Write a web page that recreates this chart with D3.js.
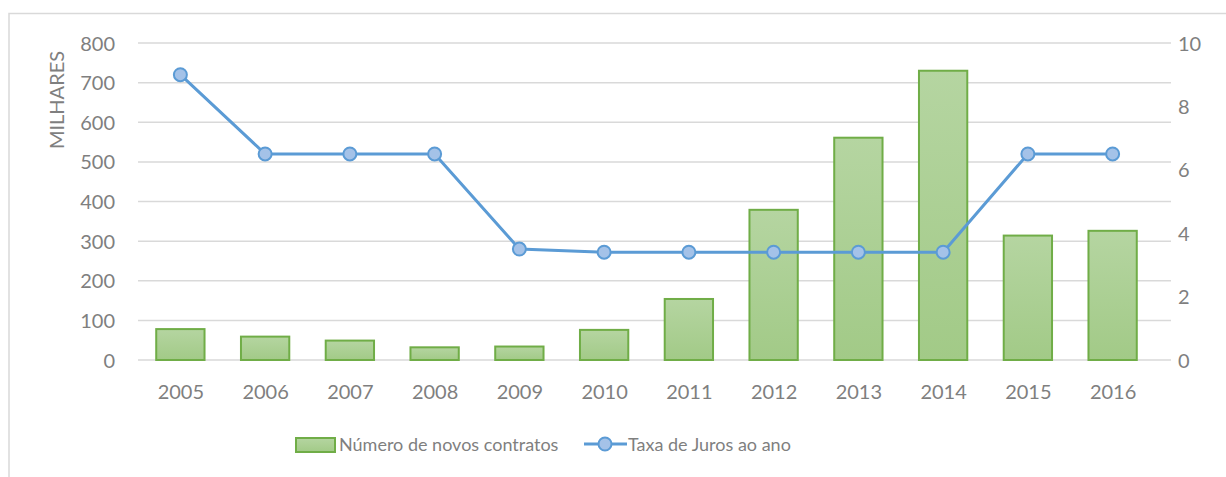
<!DOCTYPE html>
<html>
<head>
<meta charset="utf-8">
<script src="https://cdn.jsdelivr.net/npm/d3@7"></script>
<style>
  body { margin: 0; background: #fff; }
  svg text { font-family: Lato, "Open Sans", sans-serif; fill: #7f7f7f; }
</style>
</head>
<body>
<svg id="chart" width="1226" height="477"></svg>
<script>
// dados
const anos = ["2005","2006","2007","2008","2009","2010","2011","2012","2013","2014","2015","2016"]
const contratos = [78, 59, 49, 32, 34, 76, 154, 379, 561, 730, 314, 326]
const taxaJuros = [9, 6.5, 6.5, 6.5, 3.5, 3.4, 3.4, 3.4, 3.4, 3.4, 6.5, 6.5]
const ticksEsq = [0, 100, 200, 300, 400, 500, 600, 700, 800]
const ticksDir = [0, 2, 4, 6, 8, 10]

const svg = d3.select("#chart")
const plotEsq = 138, plotDir = 1155, gradeDir = 1171, plotTopo = 43, plotBase = 360

// moldura
svg.append("path")
  .attr("d", "M9,477 V13.5 H1226")
  .attr("fill", "none")
  .attr("stroke", "#d9d9d9")
  .attr("stroke-width", 1.5)

const x = d3.scaleBand().domain(anos).range([plotEsq, plotDir]).paddingInner(0.43).paddingOuter(0.215)
const xc = d3.scalePoint().domain(anos).range([plotEsq, plotDir]).padding(0.5)
const y = d3.scaleLinear().domain([0, 800]).range([plotBase, plotTopo])
const y2 = d3.scaleLinear().domain([0, 10]).range([plotBase, plotTopo])

// grade
svg.append("g")
  .selectAll("line")
  .data(ticksEsq)
  .join("line")
  .attr("x1", plotEsq).attr("x2", gradeDir)
  .attr("y1", d => y(d)).attr("y2", d => y(d))
  .attr("stroke", "#d9d9d9")
  .attr("stroke-width", 1.5)

// eixo esquerdo
const eixoEsq = svg.append("g")
  .attr("transform", `translate(${plotEsq - 23},0)`)
  .call(d3.axisLeft(y).tickValues(ticksEsq).tickSize(0).tickPadding(0))
eixoEsq.select(".domain").remove()
eixoEsq.selectAll("text").attr("font-size", 20).attr("dy", "0.35em")

// eixo direito
const eixoDir = svg.append("g")
  .attr("transform", `translate(${gradeDir + 7},0)`)
  .call(d3.axisRight(y2).tickValues(ticksDir).tickSize(0).tickPadding(0))
eixoDir.select(".domain").remove()
eixoDir.selectAll("text").attr("font-size", 20).attr("dy", "0.35em")

// eixo x
const eixoX = svg.append("g")
  .attr("transform", `translate(0,${plotBase})`)
  .call(d3.axisBottom(xc).tickSize(0).tickPadding(0))
eixoX.select(".domain").remove()
eixoX.selectAll("text").attr("font-size", 20).attr("dy", "1.95em")

svg.append("text")
  .attr("transform", "translate(64,100) rotate(-90)")
  .attr("text-anchor", "middle")
  .attr("font-size", 20)
  .text("MILHARES")

// gradiente das barras
const defs = svg.append("defs")
const grad = defs.append("linearGradient")
  .attr("id", "verde").attr("x1", 0).attr("y1", 0).attr("x2", 0).attr("y2", 1)
grad.append("stop").attr("offset", "0%").attr("stop-color", "#b5d5a1")
grad.append("stop").attr("offset", "100%").attr("stop-color", "#a2ca87")

// barras
svg.append("g")
  .selectAll("rect")
  .data(contratos)
  .join("rect")
  .attr("x", (d, i) => x(anos[i]))
  .attr("y", d => y(d))
  .attr("width", x.bandwidth())
  .attr("height", d => plotBase - y(d))
  .attr("fill", "url(#verde)")
  .attr("stroke", "#70ad47")
  .attr("stroke-width", 2)

// linha
const linha = d3.line()
  .x((d, i) => xc(anos[i]))
  .y(d => y2(d))

svg.append("path")
  .datum(taxaJuros)
  .attr("d", linha)
  .attr("fill", "none")
  .attr("stroke", "#5b9bd5")
  .attr("stroke-width", 3)

svg.append("g")
  .selectAll("circle")
  .data(taxaJuros)
  .join("circle")
  .attr("cx", (d, i) => xc(anos[i]))
  .attr("cy", d => y2(d))
  .attr("r", 6.5)
  .attr("fill", "#a4c2e8")
  .attr("stroke", "#5b9bd5")
  .attr("stroke-width", 2)

// legenda
const leg = svg.append("g")
leg.append("rect")
  .attr("x", 296).attr("y", 438).attr("width", 39).attr("height", 14)
  .attr("fill", "url(#verde)").attr("stroke", "#70ad47").attr("stroke-width", 2)
leg.append("text")
  .attr("x", 339).attr("y", 451).attr("font-size", 18)
  .text("Número de novos contratos")
leg.append("line")
  .attr("x1", 584).attr("x2", 627).attr("y1", 444).attr("y2", 444)
  .attr("stroke", "#5b9bd5").attr("stroke-width", 3)
leg.append("circle")
  .attr("cx", 605).attr("cy", 444).attr("r", 6.5)
  .attr("fill", "#a4c2e8").attr("stroke", "#5b9bd5").attr("stroke-width", 2)
leg.append("text")
  .attr("x", 628).attr("y", 451).attr("font-size", 18)
  .text("Taxa de Juros ao ano")
</script>
</body>
</html>
